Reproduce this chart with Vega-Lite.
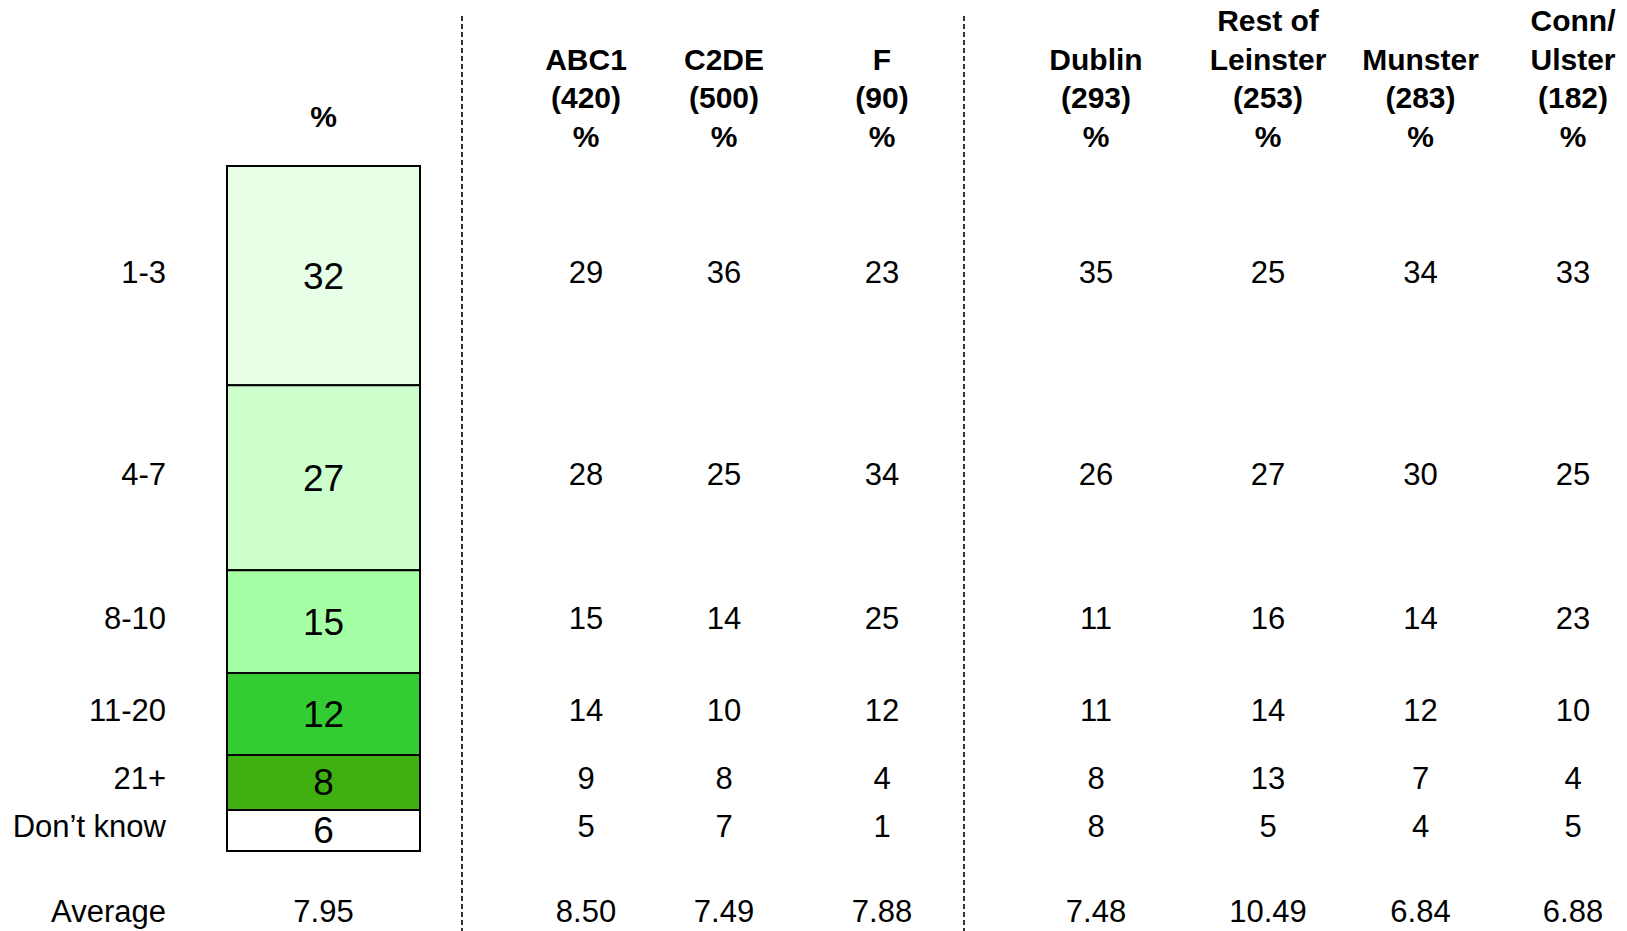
{
  "$schema": "https://vega.github.io/schema/vega-lite/v6.json",
  "width": 1627,
  "height": 931,
  "autosize": {"type": "none"},
  "padding": 0,
  "background": "white",
  "config": {
    "view": {"stroke": null},
    "text": {"font": "Liberation Sans", "color": "black"}
  },
  "datasets": {
    "dist": [
      {"category": "1-3", "Total": 32, "ABC1": 29, "C2DE": 36, "F": 23, "Dublin": 35, "Rest of Leinster": 25, "Munster": 34, "Conn/Ulster": 33},
      {"category": "4-7", "Total": 27, "ABC1": 28, "C2DE": 25, "F": 34, "Dublin": 26, "Rest of Leinster": 27, "Munster": 30, "Conn/Ulster": 25},
      {"category": "8-10", "Total": 15, "ABC1": 15, "C2DE": 14, "F": 25, "Dublin": 11, "Rest of Leinster": 16, "Munster": 14, "Conn/Ulster": 23},
      {"category": "11-20", "Total": 12, "ABC1": 14, "C2DE": 10, "F": 12, "Dublin": 11, "Rest of Leinster": 14, "Munster": 12, "Conn/Ulster": 10},
      {"category": "21+", "Total": 8, "ABC1": 9, "C2DE": 8, "F": 4, "Dublin": 8, "Rest of Leinster": 13, "Munster": 7, "Conn/Ulster": 4},
      {"category": "Don’t know", "Total": 6, "ABC1": 5, "C2DE": 7, "F": 1, "Dublin": 8, "Rest of Leinster": 5, "Munster": 4, "Conn/Ulster": 5}
    ],
    "columns": [
      {"group": "Total", "header": "%", "average": 7.95},
      {"group": "ABC1", "header": "\u00a0\nABC1\n(420)\n%", "average": 8.50},
      {"group": "C2DE", "header": "\u00a0\nC2DE\n(500)\n%", "average": 7.49},
      {"group": "F", "header": "\u00a0\nF\n(90)\n%", "average": 7.88},
      {"group": "Dublin", "header": "\u00a0\nDublin\n(293)\n%", "average": 7.48},
      {"group": "Rest of Leinster", "header": "Rest of\nLeinster\n(253)\n%", "average": 10.49},
      {"group": "Munster", "header": "\u00a0\nMunster\n(283)\n%", "average": 6.84},
      {"group": "Conn/Ulster", "header": "Conn/\nUlster\n(182)\n%", "average": 6.88}
    ],
    "dividers": [{"divider": "a"}, {"divider": "b"}]
  },
  "resolve": {"scale": {"x": "independent"}},
  "layer": [
    {
      "layer": [
        {
          "data": {"name": "dist"},
          "transform": [{"stack": "Total", "groupby": [], "as": ["y0", "y1"]}],
          "mark": {"type": "bar", "width": 193, "stroke": "black", "strokeWidth": 2},
          "encoding": {
            "x": {"datum": "Total", "type": "nominal", "scale": {"type": "point", "domain": ["label", "Total"], "range": [166, 323.5], "padding": 0}, "axis": null},
            "y": {"field": "y0", "type": "quantitative", "scale": {"domain": [-24.23, 111.68], "reverse": true, "nice": false, "zero": false}, "axis": null},
            "y2": {"field": "y1"},
            "color": {"field": "category", "type": "nominal", "legend": null,
              "scale": {"domain": ["1-3", "4-7", "8-10", "11-20", "21+", "Don’t know"],
                        "range": ["#E6FFE6", "#CCFFCC", "#A5FFA5", "#33CC33", "#40B010", "#FFFFFF"]}}
          }
        },
        {
          "data": {"name": "dist"},
          "transform": [
            {"stack": "Total", "groupby": [], "as": ["y0", "y1"]},
            {"calculate": "(datum.y0 + datum.y1) / 2", "as": "mid"}
          ],
          "mark": {"type": "text", "fontSize": 37, "baseline": "middle", "align": "center", "dy": 2},
          "encoding": {
            "x": {"datum": "Total", "type": "nominal", "scale": {"type": "point", "domain": ["label", "Total"], "range": [166, 323.5], "padding": 0}, "axis": null},
            "y": {"field": "mid", "type": "quantitative", "scale": {"domain": [-24.23, 111.68], "reverse": true, "nice": false, "zero": false}, "axis": null},
            "text": {"field": "Total", "type": "quantitative"}
          }
        },
        {
          "data": {"name": "dist"},
          "transform": [
            {"stack": "Total", "groupby": [], "as": ["y0", "y1"]},
            {"calculate": "(datum.y0 + datum.y1) / 2", "as": "mid"}
          ],
          "mark": {"type": "text", "fontSize": 31, "baseline": "middle", "align": "right", "dy": -2},
          "encoding": {
            "x": {"datum": "label", "type": "nominal", "scale": {"type": "point", "domain": ["label", "Total"], "range": [166, 323.5], "padding": 0}, "axis": null},
            "y": {"field": "mid", "type": "quantitative", "scale": {"domain": [-24.23, 111.68], "reverse": true, "nice": false, "zero": false}, "axis": null},
            "text": {"field": "category", "type": "nominal"}
          }
        },
        {
          "data": {"name": "columns"},
          "transform": [{"filter": "datum.group === 'Total'"}],
          "mark": {"type": "text", "fontSize": 30, "fontWeight": "bold", "baseline": "middle", "align": "center"},
          "encoding": {
            "x": {"field": "group", "type": "nominal", "scale": {"type": "point", "domain": ["label", "Total"], "range": [166, 323.5], "padding": 0}, "axis": null},
            "y": {"datum": -7.0, "type": "quantitative", "scale": {"domain": [-24.23, 111.68], "reverse": true, "nice": false, "zero": false}, "axis": null},
            "text": {"field": "header", "type": "nominal"}
          }
        },
        {
          "data": {"name": "columns"},
          "transform": [{"filter": "datum.group === 'Total'"}],
          "mark": {"type": "text", "fontSize": 31, "baseline": "middle", "align": "center"},
          "encoding": {
            "x": {"field": "group", "type": "nominal", "scale": {"type": "point", "domain": ["label", "Total"], "range": [166, 323.5], "padding": 0}, "axis": null},
            "y": {"datum": 109.05, "type": "quantitative", "scale": {"domain": [-24.23, 111.68], "reverse": true, "nice": false, "zero": false}, "axis": null},
            "text": {"field": "average", "type": "quantitative", "format": ".2f"}
          }
        },
        {
          "data": {"name": "columns"},
          "transform": [{"filter": "datum.group === 'Total'"}],
          "mark": {"type": "text", "fontSize": 31, "baseline": "middle", "align": "right"},
          "encoding": {
            "x": {"datum": "label", "type": "nominal", "scale": {"type": "point", "domain": ["label", "Total"], "range": [166, 323.5], "padding": 0}, "axis": null},
            "y": {"datum": 109.05, "type": "quantitative", "scale": {"domain": [-24.23, 111.68], "reverse": true, "nice": false, "zero": false}, "axis": null},
            "text": {"value": "Average"}
          }
        }
      ]
    },
    {
      "layer": [
        {
          "data": {"name": "dist"},
          "transform": [
            {"stack": "Total", "groupby": [], "as": ["y0", "y1"]},
            {"calculate": "(datum.y0 + datum.y1) / 2", "as": "mid"},
            {"fold": ["ABC1", "C2DE"], "as": ["group", "value"]}
          ],
          "mark": {"type": "text", "fontSize": 31, "baseline": "middle", "align": "center", "dy": -2},
          "encoding": {
            "x": {"field": "group", "type": "nominal", "scale": {"type": "point", "domain": ["ABC1", "C2DE"], "range": [586, 724], "padding": 0}, "axis": null},
            "y": {"field": "mid", "type": "quantitative", "scale": {"domain": [-24.23, 111.68], "reverse": true, "nice": false, "zero": false}, "axis": null},
            "text": {"field": "value", "type": "quantitative"}
          }
        },
        {
          "data": {"name": "columns"},
          "transform": [{"filter": {"field": "group", "oneOf": ["ABC1", "C2DE"]}}],
          "mark": {"type": "text", "fontSize": 30, "fontWeight": "bold", "baseline": "alphabetic", "align": "center", "lineBreak": "\n", "lineHeight": 38.5},
          "encoding": {
            "x": {"field": "group", "type": "nominal", "scale": {"type": "point", "domain": ["ABC1", "C2DE"], "range": [586, 724], "padding": 0}, "axis": null},
            "y": {"datum": -19.68, "type": "quantitative", "scale": {"domain": [-24.23, 111.68], "reverse": true, "nice": false, "zero": false}, "axis": null},
            "text": {"field": "header", "type": "nominal"}
          }
        },
        {
          "data": {"name": "columns"},
          "transform": [{"filter": {"field": "group", "oneOf": ["ABC1", "C2DE"]}}],
          "mark": {"type": "text", "fontSize": 31, "baseline": "middle", "align": "center"},
          "encoding": {
            "x": {"field": "group", "type": "nominal", "scale": {"type": "point", "domain": ["ABC1", "C2DE"], "range": [586, 724], "padding": 0}, "axis": null},
            "y": {"datum": 109.05, "type": "quantitative", "scale": {"domain": [-24.23, 111.68], "reverse": true, "nice": false, "zero": false}, "axis": null},
            "text": {"field": "average", "type": "quantitative", "format": ".2f"}
          }
        }
      ]
    },
    {
      "layer": [
        {
          "data": {"name": "dist"},
          "transform": [
            {"stack": "Total", "groupby": [], "as": ["y0", "y1"]},
            {"calculate": "(datum.y0 + datum.y1) / 2", "as": "mid"},
            {"fold": ["F", "Dublin"], "as": ["group", "value"]}
          ],
          "mark": {"type": "text", "fontSize": 31, "baseline": "middle", "align": "center", "dy": -2},
          "encoding": {
            "x": {"field": "group", "type": "nominal", "scale": {"type": "point", "domain": ["F", "Dublin"], "range": [882, 1096], "padding": 0}, "axis": null},
            "y": {"field": "mid", "type": "quantitative", "scale": {"domain": [-24.23, 111.68], "reverse": true, "nice": false, "zero": false}, "axis": null},
            "text": {"field": "value", "type": "quantitative"}
          }
        },
        {
          "data": {"name": "columns"},
          "transform": [{"filter": {"field": "group", "oneOf": ["F", "Dublin"]}}],
          "mark": {"type": "text", "fontSize": 30, "fontWeight": "bold", "baseline": "alphabetic", "align": "center", "lineBreak": "\n", "lineHeight": 38.5},
          "encoding": {
            "x": {"field": "group", "type": "nominal", "scale": {"type": "point", "domain": ["F", "Dublin"], "range": [882, 1096], "padding": 0}, "axis": null},
            "y": {"datum": -19.68, "type": "quantitative", "scale": {"domain": [-24.23, 111.68], "reverse": true, "nice": false, "zero": false}, "axis": null},
            "text": {"field": "header", "type": "nominal"}
          }
        },
        {
          "data": {"name": "columns"},
          "transform": [{"filter": {"field": "group", "oneOf": ["F", "Dublin"]}}],
          "mark": {"type": "text", "fontSize": 31, "baseline": "middle", "align": "center"},
          "encoding": {
            "x": {"field": "group", "type": "nominal", "scale": {"type": "point", "domain": ["F", "Dublin"], "range": [882, 1096], "padding": 0}, "axis": null},
            "y": {"datum": 109.05, "type": "quantitative", "scale": {"domain": [-24.23, 111.68], "reverse": true, "nice": false, "zero": false}, "axis": null},
            "text": {"field": "average", "type": "quantitative", "format": ".2f"}
          }
        }
      ]
    },
    {
      "layer": [
        {
          "data": {"name": "dist"},
          "transform": [
            {"stack": "Total", "groupby": [], "as": ["y0", "y1"]},
            {"calculate": "(datum.y0 + datum.y1) / 2", "as": "mid"},
            {"fold": ["Rest of Leinster", "Munster", "Conn/Ulster"], "as": ["group", "value"]}
          ],
          "mark": {"type": "text", "fontSize": 31, "baseline": "middle", "align": "center", "dy": -2},
          "encoding": {
            "x": {"field": "group", "type": "nominal", "scale": {"type": "point", "domain": ["Rest of Leinster", "Munster", "Conn/Ulster"], "range": [1268, 1573], "padding": 0}, "axis": null},
            "y": {"field": "mid", "type": "quantitative", "scale": {"domain": [-24.23, 111.68], "reverse": true, "nice": false, "zero": false}, "axis": null},
            "text": {"field": "value", "type": "quantitative"}
          }
        },
        {
          "data": {"name": "columns"},
          "transform": [{"filter": {"field": "group", "oneOf": ["Rest of Leinster", "Munster", "Conn/Ulster"]}}],
          "mark": {"type": "text", "fontSize": 30, "fontWeight": "bold", "baseline": "alphabetic", "align": "center", "lineBreak": "\n", "lineHeight": 38.5},
          "encoding": {
            "x": {"field": "group", "type": "nominal", "scale": {"type": "point", "domain": ["Rest of Leinster", "Munster", "Conn/Ulster"], "range": [1268, 1573], "padding": 0}, "axis": null},
            "y": {"datum": -19.68, "type": "quantitative", "scale": {"domain": [-24.23, 111.68], "reverse": true, "nice": false, "zero": false}, "axis": null},
            "text": {"field": "header", "type": "nominal"}
          }
        },
        {
          "data": {"name": "columns"},
          "transform": [{"filter": {"field": "group", "oneOf": ["Rest of Leinster", "Munster", "Conn/Ulster"]}}],
          "mark": {"type": "text", "fontSize": 31, "baseline": "middle", "align": "center"},
          "encoding": {
            "x": {"field": "group", "type": "nominal", "scale": {"type": "point", "domain": ["Rest of Leinster", "Munster", "Conn/Ulster"], "range": [1268, 1573], "padding": 0}, "axis": null},
            "y": {"datum": 109.05, "type": "quantitative", "scale": {"domain": [-24.23, 111.68], "reverse": true, "nice": false, "zero": false}, "axis": null},
            "text": {"field": "average", "type": "quantitative", "format": ".2f"}
          }
        }
      ]
    },
    {
      "data": {"name": "dividers"},
      "mark": {"type": "rule", "stroke": "black", "strokeWidth": 1.6, "strokeDash": [5, 3]},
      "encoding": {
        "x": {"field": "divider", "type": "nominal", "scale": {"type": "point", "domain": ["a", "b"], "range": [462, 964], "padding": 0}, "axis": null},
        "y": {"datum": -21.9, "type": "quantitative", "scale": {"domain": [-24.23, 111.68], "reverse": true, "nice": false, "zero": false}, "axis": null},
        "y2": {"datum": 111.68}
      }
    }
  ]
}
